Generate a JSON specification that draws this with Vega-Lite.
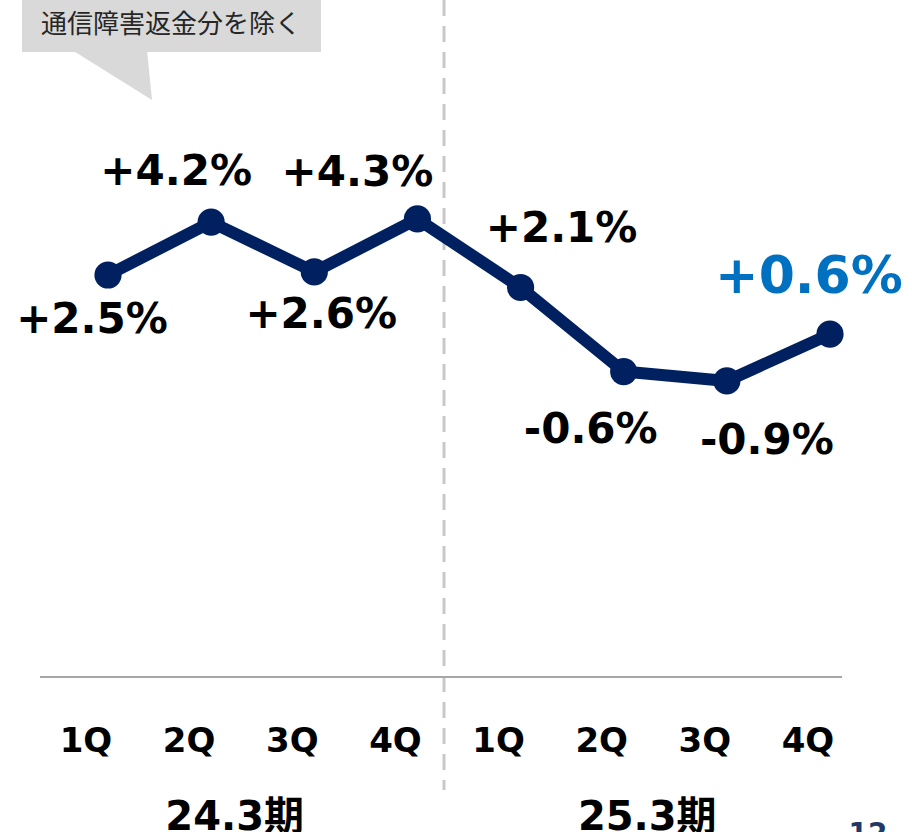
{
  "$schema": "https://vega.github.io/schema/vega-lite/v6.json",
  "width": 912,
  "height": 832,
  "autosize": {"type": "none"},
  "padding": 0,
  "background": "white",
  "config": {"view": {"stroke": null}},
  "data": {"values": [
    {"i": 0, "quarter": "1Q", "period": "24.3期", "value": 2.5, "label": "+2.5%"},
    {"i": 1, "quarter": "2Q", "period": "24.3期", "value": 4.2, "label": "+4.2%"},
    {"i": 2, "quarter": "3Q", "period": "24.3期", "value": 2.6, "label": "+2.6%"},
    {"i": 3, "quarter": "4Q", "period": "24.3期", "value": 4.3, "label": "+4.3%"},
    {"i": 4, "quarter": "1Q", "period": "25.3期", "value": 2.1, "label": "+2.1%"},
    {"i": 5, "quarter": "2Q", "period": "25.3期", "value": -0.6, "label": "-0.6%"},
    {"i": 6, "quarter": "3Q", "period": "25.3期", "value": -0.9, "label": "-0.9%"},
    {"i": 7, "quarter": "4Q", "period": "25.3期", "value": 0.6, "label": "+0.6%"}
  ]},
  "layer": [
    {
      "data": {"values": [{}]},
      "mark": {"type": "rect", "color": "#d9d9d9", "clip": false},
      "encoding": {
        "x": {"datum": -0.8338, "type": "quantitative", "scale": {"domain": [-1.0471, 7.7953], "nice": false, "zero": false}, "axis": null},
        "x2": {"datum": 2.0652},
        "y": {"datum": 12, "type": "quantitative", "scale": {"domain": [-15.381, 11.329], "nice": false, "zero": false}, "axis": null},
        "y2": {"datum": 9.66}
      }
    },
    {
      "data": {"values": [{}]},
      "mark": {"type": "point", "shape": "M-38,-26L37,-26L42,24Z", "size": 4, "filled": true, "color": "#d9d9d9", "opacity": 1, "strokeWidth": 0, "clip": false},
      "encoding": {
        "x": {"datum": 0.0194, "type": "quantitative", "scale": {"domain": [-1.0471, 7.7953], "nice": false, "zero": false}, "axis": null},
        "y": {"datum": 8.889, "type": "quantitative", "scale": {"domain": [-15.381, 11.329], "nice": false, "zero": false}, "axis": null}
      }
    },
    {
      "data": {"values": [{"note": "通信障害返金分を除く"}]},
      "mark": {"type": "text", "font": "Noto Sans CJK JP", "fontSize": 26, "color": "#262626", "align": "center", "baseline": "middle"},
      "encoding": {
        "x": {"datum": 0.6108, "type": "quantitative", "scale": {"domain": [-1.0471, 7.7953], "nice": false, "zero": false}, "axis": null},
        "y": {"datum": 10.526, "type": "quantitative", "scale": {"domain": [-15.381, 11.329], "nice": false, "zero": false}, "axis": null},
        "text": {"field": "note"}
      }
    },
    {
      "data": {"values": [{}]},
      "mark": {"type": "rule", "color": "#c8c8c8", "strokeWidth": 3, "strokeDash": [16, 10]},
      "encoding": {
        "x": {"datum": 3.258, "type": "quantitative", "scale": {"domain": [-1.0471, 7.7953], "nice": false, "zero": false}, "axis": null},
        "y": {"datum": 11.329, "type": "quantitative", "scale": {"domain": [-15.381, 11.329], "nice": false, "zero": false}, "axis": null},
        "y2": {"datum": -14.032}
      }
    },
    {
      "data": {"values": [{}]},
      "mark": {"type": "rule", "color": "#a6a6a6", "strokeWidth": 2},
      "encoding": {
        "x": {"datum": -0.659, "type": "quantitative", "scale": {"domain": [-1.0471, 7.7953], "nice": false, "zero": false}, "axis": null},
        "x2": {"datum": 7.117},
        "y": {"datum": -10.405, "type": "quantitative", "scale": {"domain": [-15.381, 11.329], "nice": false, "zero": false}, "axis": null}
      }
    },
    {
      "mark": {"type": "line", "color": "#002060", "strokeWidth": 12, "strokeJoin": "round"},
      "encoding": {
        "x": {"field": "i", "type": "quantitative", "scale": {"domain": [-1.0471, 7.7953], "nice": false, "zero": false}, "axis": null},
        "y": {"field": "value", "type": "quantitative", "scale": {"domain": [-15.381, 11.329], "nice": false, "zero": false}, "axis": null}
      }
    },
    {
      "mark": {"type": "circle", "color": "#002060", "size": 740, "opacity": 1},
      "encoding": {
        "x": {"field": "i", "type": "quantitative", "scale": {"domain": [-1.0471, 7.7953], "nice": false, "zero": false}, "axis": null},
        "y": {"field": "value", "type": "quantitative", "scale": {"domain": [-15.381, 11.329], "nice": false, "zero": false}, "axis": null}
      }
    },
    {
      "transform": [{"filter": "datum.i == 0"}],
      "mark": {"type": "text", "font": "DejaVu Sans", "fontWeight": "bold", "fontSize": 42, "color": "#000000", "align": "center", "baseline": "alphabetic", "dx": -16, "dy": 58},
      "encoding": {
        "x": {"field": "i", "type": "quantitative", "scale": {"domain": [-1.0471, 7.7953], "nice": false, "zero": false}, "axis": null},
        "y": {"field": "value", "type": "quantitative", "scale": {"domain": [-15.381, 11.329], "nice": false, "zero": false}, "axis": null},
        "text": {"field": "label"}
      }
    },
    {
      "transform": [{"filter": "datum.i == 1"}],
      "mark": {"type": "text", "font": "DejaVu Sans", "fontWeight": "bold", "fontSize": 42, "color": "#000000", "align": "center", "baseline": "alphabetic", "dx": -35, "dy": -37},
      "encoding": {
        "x": {"field": "i", "type": "quantitative", "scale": {"domain": [-1.0471, 7.7953], "nice": false, "zero": false}, "axis": null},
        "y": {"field": "value", "type": "quantitative", "scale": {"domain": [-15.381, 11.329], "nice": false, "zero": false}, "axis": null},
        "text": {"field": "label"}
      }
    },
    {
      "transform": [{"filter": "datum.i == 2"}],
      "mark": {"type": "text", "font": "DejaVu Sans", "fontWeight": "bold", "fontSize": 42, "color": "#000000", "align": "center", "baseline": "alphabetic", "dx": 7, "dy": 56},
      "encoding": {
        "x": {"field": "i", "type": "quantitative", "scale": {"domain": [-1.0471, 7.7953], "nice": false, "zero": false}, "axis": null},
        "y": {"field": "value", "type": "quantitative", "scale": {"domain": [-15.381, 11.329], "nice": false, "zero": false}, "axis": null},
        "text": {"field": "label"}
      }
    },
    {
      "transform": [{"filter": "datum.i == 3"}],
      "mark": {"type": "text", "font": "DejaVu Sans", "fontWeight": "bold", "fontSize": 42, "color": "#000000", "align": "center", "baseline": "alphabetic", "dx": -60, "dy": -33},
      "encoding": {
        "x": {"field": "i", "type": "quantitative", "scale": {"domain": [-1.0471, 7.7953], "nice": false, "zero": false}, "axis": null},
        "y": {"field": "value", "type": "quantitative", "scale": {"domain": [-15.381, 11.329], "nice": false, "zero": false}, "axis": null},
        "text": {"field": "label"}
      }
    },
    {
      "transform": [{"filter": "datum.i == 4"}],
      "mark": {"type": "text", "font": "DejaVu Sans", "fontWeight": "bold", "fontSize": 42, "color": "#000000", "align": "center", "baseline": "alphabetic", "dx": 41, "dy": -45},
      "encoding": {
        "x": {"field": "i", "type": "quantitative", "scale": {"domain": [-1.0471, 7.7953], "nice": false, "zero": false}, "axis": null},
        "y": {"field": "value", "type": "quantitative", "scale": {"domain": [-15.381, 11.329], "nice": false, "zero": false}, "axis": null},
        "text": {"field": "label"}
      }
    },
    {
      "transform": [{"filter": "datum.i == 5"}],
      "mark": {"type": "text", "font": "DejaVu Sans", "fontWeight": "bold", "fontSize": 42, "color": "#000000", "align": "center", "baseline": "alphabetic", "dx": -33, "dy": 71},
      "encoding": {
        "x": {"field": "i", "type": "quantitative", "scale": {"domain": [-1.0471, 7.7953], "nice": false, "zero": false}, "axis": null},
        "y": {"field": "value", "type": "quantitative", "scale": {"domain": [-15.381, 11.329], "nice": false, "zero": false}, "axis": null},
        "text": {"field": "label"}
      }
    },
    {
      "transform": [{"filter": "datum.i == 6"}],
      "mark": {"type": "text", "font": "DejaVu Sans", "fontWeight": "bold", "fontSize": 42, "color": "#000000", "align": "center", "baseline": "alphabetic", "dx": 40, "dy": 73},
      "encoding": {
        "x": {"field": "i", "type": "quantitative", "scale": {"domain": [-1.0471, 7.7953], "nice": false, "zero": false}, "axis": null},
        "y": {"field": "value", "type": "quantitative", "scale": {"domain": [-15.381, 11.329], "nice": false, "zero": false}, "axis": null},
        "text": {"field": "label"}
      }
    },
    {
      "transform": [{"filter": "datum.i == 7"}],
      "mark": {"type": "text", "font": "DejaVu Sans", "fontWeight": "bold", "fontSize": 52, "color": "#0070c0", "align": "center", "baseline": "alphabetic", "dx": -21, "dy": -41},
      "encoding": {
        "x": {"field": "i", "type": "quantitative", "scale": {"domain": [-1.0471, 7.7953], "nice": false, "zero": false}, "axis": null},
        "y": {"field": "value", "type": "quantitative", "scale": {"domain": [-15.381, 11.329], "nice": false, "zero": false}, "axis": null},
        "text": {"field": "label"}
      }
    },
    {
      "mark": {"type": "text", "font": "DejaVu Sans", "fontWeight": "bold", "fontSize": 34, "color": "#000000", "align": "center", "baseline": "alphabetic", "dx": -22},
      "encoding": {
        "x": {"field": "i", "type": "quantitative", "scale": {"domain": [-1.0471, 7.7953], "nice": false, "zero": false}, "axis": null},
        "y": {"datum": -12.812, "type": "quantitative", "scale": {"domain": [-15.381, 11.329], "nice": false, "zero": false}, "axis": null},
        "text": {"field": "quarter"}
      }
    },
    {
      "transform": [{"aggregate": [{"op": "mean", "field": "i", "as": "mid"}], "groupby": ["period"]}],
      "mark": {"type": "text", "font": "DejaVu Sans, Noto Sans CJK JP", "fontWeight": "bold", "fontSize": 40, "color": "#000000", "align": "center", "baseline": "alphabetic", "dx": -28},
      "encoding": {
        "x": {"field": "mid", "type": "quantitative", "scale": {"domain": [-1.0471, 7.7953], "nice": false, "zero": false}, "axis": null},
        "y": {"datum": -15.316, "type": "quantitative", "scale": {"domain": [-15.381, 11.329], "nice": false, "zero": false}, "axis": null},
        "text": {"field": "period"}
      }
    },
    {
      "data": {"values": [{"page": "12"}]},
      "mark": {"type": "text", "font": "DejaVu Sans", "fontWeight": "bold", "fontSize": 28, "color": "#1f3a68", "align": "center", "baseline": "alphabetic"},
      "encoding": {
        "x": {"datum": 7.3687, "type": "quantitative", "scale": {"domain": [-1.0471, 7.7953], "nice": false, "zero": false}, "axis": null},
        "y": {"datum": -15.734, "type": "quantitative", "scale": {"domain": [-15.381, 11.329], "nice": false, "zero": false}, "axis": null},
        "text": {"field": "page"}
      }
    }
  ]
}
